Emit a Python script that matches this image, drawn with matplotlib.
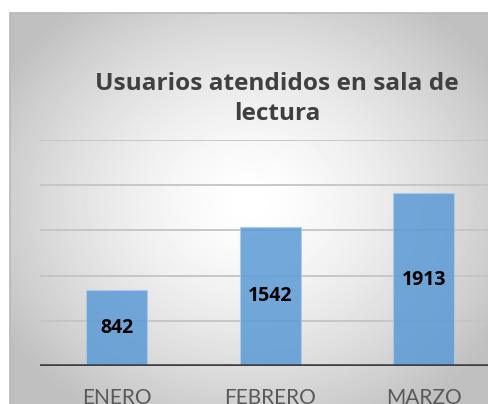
import numpy as np
import matplotlib
matplotlib.use("Agg")
import matplotlib.pyplot as plt

months = ["ENERO", "FEBRERO", "MARZO"]
usuarios = [842, 1542, 1913]
yticks = [0, 500, 1000, 1500, 2000, 2500]
title = "Usuarios atendidos en sala de\nlectura"

W, H = 489, 404
plt.rcParams["font.family"] = ["Lato", "DejaVu Sans"]
bold_font = ["Open Sans", "DejaVu Sans"]

fig = plt.figure(figsize=(W / 100, H / 100), dpi=100)
fig.patch.set_facecolor("white")

# radial grey background of the chart area
bg = fig.add_axes([10 / W, 0, 1 - 10 / W, (H - 13) / H])
yy, xx = np.mgrid[0:391, 0:479]
r = np.hypot((xx - 240) / 290, (yy - 190) / 250)
shade = 1 - 0.25 * np.clip(r, 0, 1) ** 1.5
bg.imshow(shade, cmap="gray", vmin=0, vmax=1, aspect="auto",
          extent=(0, 1, 0, 1), origin="upper")
bg.set_xlim(0, 1)
bg.set_ylim(0, 1)
bg.axis("off")
fig.add_artist(plt.Line2D([10 / W, 10 / W], [0, (H - 13) / H],
                          color="#b8b8b8", lw=1.2, transform=fig.transFigure))
fig.add_artist(plt.Line2D([10 / W, 1], [(H - 13) / H, (H - 13) / H],
                          color="#b8b8b8", lw=1.2, transform=fig.transFigure))

ax = fig.add_axes([40 / W, 38 / H, 460.5 / W, 226 / H])
ax.set_facecolor("none")
x = np.arange(len(months))
ax.bar(x, usuarios, width=0.4, color="#5b9bd5", alpha=0.85,
       edgecolor="#a9cbea", linewidth=0.8, zorder=3)
for xi, v in zip(x, usuarios):
    ax.text(xi, v / 2, str(v), ha="center", va="center", family=bold_font,
            fontsize=14, fontweight="bold", color="black", zorder=4)

ax.set_xlim(-0.5, 2.5)
ax.set_ylim(0, 2500)
ax.set_yticks(yticks)
ax.set_yticklabels([])
ax.tick_params(axis="y", length=0)
ax.grid(axis="y", color="#c4c4c4", linewidth=1.3, zorder=0)
ax.axhline(0, color="#404040", linewidth=2.6, zorder=5)
for s in ax.spines.values():
    s.set_visible(False)
ax.set_xticks(x)
ax.set_xticklabels(months, fontsize=15, color="#595959")
ax.tick_params(axis="x", length=0, pad=16)

fig.text(277 / W, 1 - 99 / H, title, ha="center", va="center",
         family=bold_font, fontsize=17.6, fontweight="bold",
         color="#404040", linespacing=1.3)

fig.savefig("out.png", dpi=100)
